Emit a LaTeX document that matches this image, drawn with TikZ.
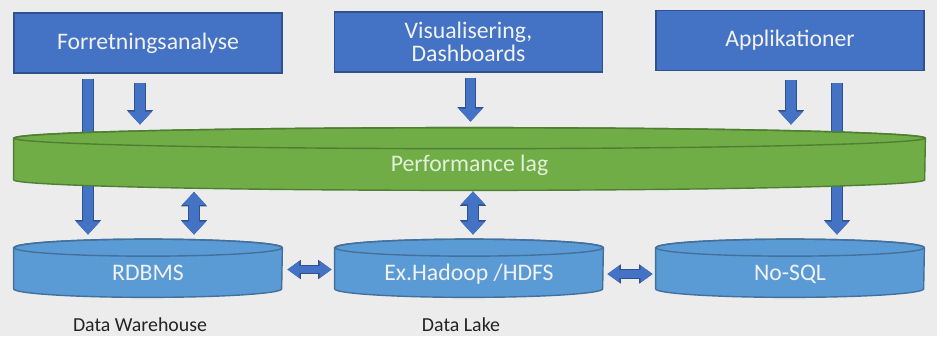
\documentclass[tikz,border=0pt]{standalone}
\usepackage{fontspec}
\setmainfont{Carlito}
\usetikzlibrary{arrows.meta, positioning, calc, backgrounds}
\definecolor{bggray}{RGB}{236,236,236}
\definecolor{boxblue}{RGB}{68,114,196}
\definecolor{boxedge}{RGB}{47,82,143}
\definecolor{laggreen}{RGB}{112,173,71}
\definecolor{lagedge}{RGB}{80,126,50}
\definecolor{lagtext}{RGB}{226,240,217}
\definecolor{dbblue}{RGB}{91,155,213}
\definecolor{dbedge}{RGB}{65,113,156}
\definecolor{labelgray}{RGB}{35,35,35}

% cylinder behind a body node: node, x radius, y radius, fill, edge
\newcommand{\dbcylinder}[5]{%
  \begin{pgfonlayer}{background}
    \filldraw[fill=#4, draw=#5, line width=0.8pt]
      (#1.north west) -- ($(#1.south west)+(0,#3)$)
      arc[start angle=180, end angle=360, x radius=#2, y radius=#3]
      -- (#1.north east)
      arc[start angle=0, end angle=180, x radius=#2, y radius=#3] -- cycle;
    \draw[draw=#5, line width=0.8pt] (#1.north) ellipse[x radius=#2, y radius=#3];
  \end{pgfonlayer}}

\begin{document}
\begin{tikzpicture}[
  topbox/.style={draw=boxedge, fill=boxblue, line width=0.8pt, minimum width=5.36cm, minimum height=1.2cm, align=center, text=white!95!black, font=\fontsize{13.5}{13}\selectfont},
  cylbody/.style={minimum width=5.36cm, minimum height=0.98cm, inner sep=0pt, text height=8.7pt, text depth=0pt, text=white!95!black, font=\fontsize{13.5}{15}\selectfont},
  arr/.style={draw=boxblue, line width=0.19cm, -{Triangle[width=0.46cm,length=0.26cm]},
    preaction={draw=boxedge, line width=0.23cm, -{Triangle[width=0.51cm,length=0.29cm]}}},
  darr/.style={draw=boxblue, line width=0.19cm, {Triangle[width=0.46cm,length=0.26cm]}-{Triangle[width=0.46cm,length=0.26cm]},
    preaction={draw=boxedge, line width=0.23cm, {Triangle[width=0.51cm,length=0.29cm]}-{Triangle[width=0.51cm,length=0.29cm]}}},
  harr/.style={draw=boxblue, line width=0.15cm, {Triangle[width=0.32cm,length=0.24cm]}-{Triangle[width=0.32cm,length=0.24cm]},
    preaction={draw=boxedge, line width=0.19cm, {Triangle[width=0.37cm,length=0.27cm]}-{Triangle[width=0.37cm,length=0.27cm]}}},
  caption/.style={text=labelgray, inner sep=1pt, font=\fontsize{11.3}{13}\selectfont}
]
  \useasboundingbox (0,0) rectangle (18.74,-6.72);

  \node[topbox] (fa) at (2.96,-0.86) {Forretningsanalyse};
  \node[topbox] (vis) at (9.37,-0.84) {Visualisering,\\Dashboards};
  \node[topbox] (app) at (15.80,-0.81) {Applikationer};

  \node[cylbody, minimum width=18.22cm, minimum height=1.03cm, text=lagtext] (perf) at (9.39,-3.285) {Performance lag};

  \node[cylbody] (rdbms) at (2.96,-5.45) {RDBMS};
  \node[cylbody] (hadoop) at (9.38,-5.45) {Ex.Hadoop /HDFS};
  \node[cylbody] (nosql) at (15.80,-5.45) {No-SQL};

  \node[caption] (dw) at (2.80,-6.49) {Data Warehouse};
  \node[caption] (dl) at (9.22,-6.49) {Data Lake};

  % long arrows pass behind the performance layer
  \begin{pgfonlayer}{background}
    \fill[bggray] (0,0) rectangle (18.74,-6.72);
    \draw[arr] ($(fa.south)+(-1.2,-0.1)$) -- ($(rdbms.north)+(-1.2,0.26)$);
    \draw[arr] ($(app.south)+(0.94,-0.24)$) -- ($(nosql.north)+(0.94,0.26)$);
  \end{pgfonlayer}

  \dbcylinder{perf}{9.11}{0.21}{laggreen}{lagedge}
  \dbcylinder{rdbms}{2.68}{0.17}{dbblue}{dbedge}
  \dbcylinder{hadoop}{2.68}{0.17}{dbblue}{dbedge}
  \dbcylinder{nosql}{2.68}{0.17}{dbblue}{dbedge}

  \draw[arr] ($(fa.south)+(-0.16,-0.18)$) -- ($(fa.south |- perf.north)+(-0.16,0.27)$);
  \draw[arr] ($(vis.south)+(0.04,-0.1)$) -- ($(vis.south |- perf.north)+(0.04,0.33)$);
  \draw[arr] ($(app.south)+(0.02,-0.18)$) -- ($(app.south |- perf.north)+(0.02,0.27)$);

  \draw[darr] ($(rdbms.north)+(0.92,0.26)$) -- ($(rdbms.north |- perf.south)+(0.92,-0.03)$);
  \draw[darr] ($(hadoop.north)+(0.08,0.26)$) -- ($(hadoop.north |- perf.south)+(0.08,-0.02)$);

  \draw[harr] ($(rdbms.east)+(0.1,0.06)$) -- ($(hadoop.west |- rdbms.east)+(-0.06,0.06)$);
  \draw[harr] ($(hadoop.east)+(0.08,-0.03)$) -- ($(nosql.west |- hadoop.east)+(-0.06,-0.03)$);
\end{tikzpicture}
\end{document}
